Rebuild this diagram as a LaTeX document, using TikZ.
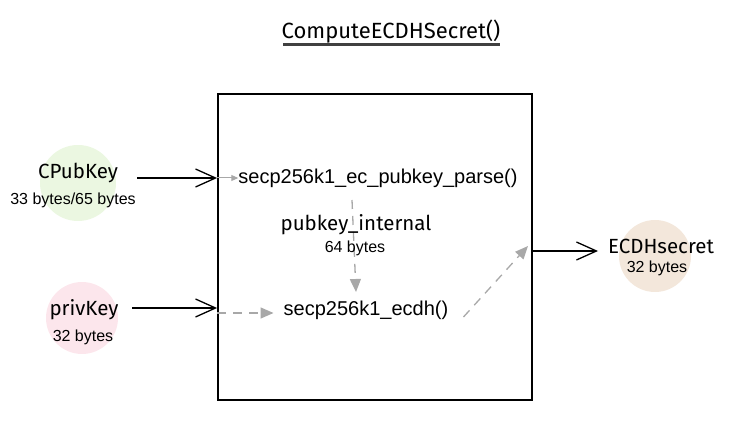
\documentclass[tikz,border=0pt]{standalone}
\usepackage{fontspec}
\setmainfont{Liberation Sans}
\newfontfamily\handfont{Fira Sans}
\usetikzlibrary{arrows.meta,calc}
\definecolor{cpkfill}{HTML}{EBF7E1}
\definecolor{privfill}{HTML}{FCE6EC}
\definecolor{ecdhfill}{HTML}{F3E7DB}
\definecolor{dashgray}{HTML}{A8A8A8}
\tikzset{
  hand/.style={font=\handfont\fontsize{20.5}{24}\selectfont, inner sep=0pt},
  titlefont/.style={font=\handfont\fontsize{22}{26}\selectfont, inner sep=0pt},
  plain/.style={font=\fontsize{16}{18}\selectfont, inner sep=0pt},
  func/.style={font=\fontsize{20}{23}\selectfont, inner sep=0pt},
  blob/.style={circle, draw=none, inner sep=0pt},
  inarrow/.style={draw=black, line width=1.5pt, -{Straight Barb[length=20pt,width=18pt,line width=1.3pt]}},
  grayarrow/.style={draw=dashgray, line width=1.3pt, dash pattern=on 9pt off 7pt, -{Triangle[length=13pt,width=11pt]}},
  framebox/.style={draw=black, line width=1.8pt, rectangle, minimum width=314pt, minimum height=306pt, inner sep=0pt}
}
\begin{document}
\begin{tikzpicture}[x=1pt,y=-1pt]
\useasboundingbox (0,0) rectangle (743,435);
% title
\node[titlefont] (title) at (391,32) {ComputeECDHSecret()};
\draw[line width=3pt, black!75] (283,45) coordinate (ul1) -- (500,45) coordinate (ul2);
% circles
\node[blob, fill=cpkfill, minimum size=76pt] (cpkc) at (78,183) {};
\node[blob, fill=privfill, minimum size=72pt] (privc) at (82,318) {};
\node[blob, fill=ecdhfill, minimum size=72pt] (ecdhc) at (655,256) {};
% labels
\node[hand] (cpk) at (78,173) {CPubKey};
\node[plain] (cpkb) at (73,200) {33 bytes/65 bytes};
\node[hand] (priv) at (84,310) {privKey};
\node[plain] (privb) at (83,337) {32 bytes};
\node[hand] (ecdh) at (661,246) {ECDHsecret};
\node[plain] (ecdhb) at (657,268) {32 bytes};
% frame
\node[framebox] (box) at (375,247) {};
% inner nodes
\node[func] (parse) at (378,178) {secp256k1\_ec\_pubkey\_parse()};
\node[func] (ecdhf) at (366,310) {secp256k1\_ecdh()};
% vertical dashed arrow behind text
\coordinate (vstart) at (352,200);
\coordinate (vend) at (356,292);
\draw[grayarrow] (vstart) -- (vend);
\node[hand] (pint) at (356,225) {pubkey\_internal};
\node[plain] (pintb) at (355,248) {64 bytes};
% input arrows
\coordinate (cpkstart) at (137,178);
\draw[inarrow] (cpkstart) -- (cpkstart -| box.west);
\coordinate (privstart) at (132,308);
\draw[inarrow] (privstart) -- (privstart -| box.west);
% output arrow
\coordinate (outstart) at (533,251);
\coordinate (outend) at (598,251);
\draw[inarrow] (outstart) -- (outend);
% gray arrows inside
\draw[draw=dashgray, line width=1pt, -{Triangle[length=7pt,width=6pt]}] (box.west |- parse.west) -- (parse.west);
\draw[grayarrow] (box.west |- 0,313) -- ($(ecdhf.west)+(-10,3)$);
\coordinate (diagend) at (528,246);
\draw[grayarrow] ($(ecdhf.east)+(15,7)$) -- (diagend);
\end{tikzpicture}
\end{document}
